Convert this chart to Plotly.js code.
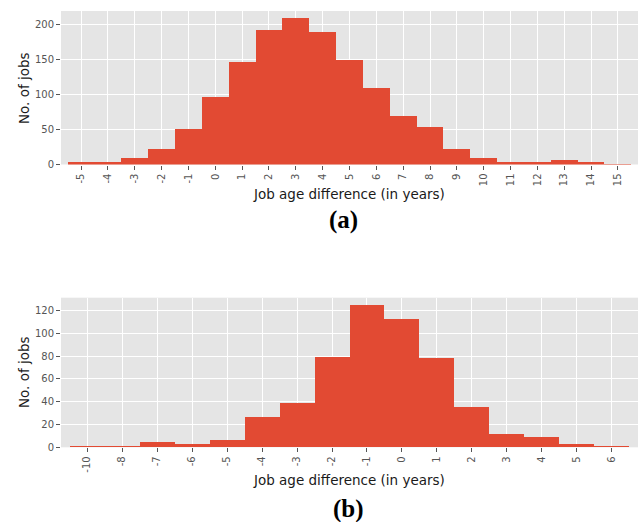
<!DOCTYPE html>
<html>
<head>
<meta charset="utf-8">
<script src="https://cdn.plot.ly/plotly-3.0.1.min.js"></script>
<style>
  html, body { margin: 0; padding: 0; background: #ffffff; }
  #chart { width: 643px; height: 522px; }
</style>
</head>
<body>
<div id="chart"></div>
<script>
// (a) job age difference histogram, one bar per year
const catsA = ["-5","-4","-3","-2","-1","0","1","2","3","4","5","6","7","8","9","10","11","12","13","14","15"];
const countsA = [3, 3, 10, 22, 51, 96, 146, 192, 209, 189, 149, 110, 69, 53, 22, 10, 3, 3, 6, 3, 1];

// (b) job age difference histogram
const catsB = ["-10","-8","-7","-6","-5","-4","-3","-2","-1","0","1","2","3","4","5","6"];
const countsB = [1, 1, 5, 3, 6, 27, 39, 79, 125, 113, 78, 35, 12, 9, 3, 1];

const yTicksA = [0, 50, 100, 150, 200];
const yTicksB = [0, 20, 40, 60, 80, 100, 120];

const barColor = "#E24A33";
const panelBg = "#E5E5E5";
const tickColor = "#555555";
const fontFamily = "DejaVu Sans, sans-serif";

const W = 643, H = 522;
const px = v => v / W;           // horizontal pixel -> paper
const py = v => 1 - v / H;       // vertical pixel -> paper

const traces = [
  { type: "bar", x: catsA, y: countsA, xaxis: "x", yaxis: "y",
    marker: { color: barColor, line: { width: 0 } }, hoverinfo: "x+y" },
  { type: "bar", x: catsB, y: countsB, xaxis: "x2", yaxis: "y2",
    marker: { color: barColor, line: { width: 0 } }, hoverinfo: "x+y" }
];

function xAxis(cats, anchor) {
  return {
    type: "category", anchor: anchor,
    domain: [px(61), px(638)],
    range: [-0.75, cats.length - 0.25],
    showgrid: true, gridcolor: "#ffffff", gridwidth: 1,
    zeroline: false, showline: false,
    ticks: "outside", ticklen: 4, tickwidth: 1, tickcolor: tickColor,
    tickangle: -90,
    tickfont: { family: fontFamily, size: 10, color: tickColor },
    fixedrange: true
  };
}

function yAxis(maxVal, ticks, top, bottom, anchor) {
  return {
    anchor: anchor,
    domain: [py(bottom), py(top)],
    range: [0, maxVal * 1.05],
    tickvals: ticks,
    showgrid: true, gridcolor: "#ffffff", gridwidth: 1,
    zeroline: false, showline: false,
    ticks: "outside", ticklen: 4, tickwidth: 1, tickcolor: tickColor,
    tickfont: { family: fontFamily, size: 10, color: tickColor },
    fixedrange: true
  };
}

const titleFont = { family: fontFamily, size: 13.5, color: "#1a1a1a" };
const panelFont = { family: "Liberation Serif, Times New Roman, serif", size: 25, color: "#000000" };

const layout = {
  width: W, height: H,
  margin: { l: 0, r: 0, t: 0, b: 0 },
  paper_bgcolor: "#ffffff",
  plot_bgcolor: panelBg,
  showlegend: false,
  bargap: 0,
  xaxis: xAxis(catsA, "y"),
  yaxis: yAxis(Math.max(...countsA), yTicksA, 11, 164.5, "x"),
  xaxis2: xAxis(catsB, "y2"),
  yaxis2: yAxis(Math.max(...countsB), yTicksB, 297.7, 447.3, "x2"),
  annotations: [
    { text: "Job age difference (in years)", xref: "paper", yref: "paper",
      x: px(349), y: py(194), xanchor: "center", yanchor: "middle",
      showarrow: false, font: titleFont },
    { text: "No. of jobs", xref: "paper", yref: "paper",
      x: px(24), y: py(88), xanchor: "center", yanchor: "middle",
      textangle: -90, showarrow: false, font: titleFont },
    { text: "<b>(a)</b>", xref: "paper", yref: "paper",
      x: px(343), y: py(220), xanchor: "center", yanchor: "middle",
      showarrow: false, font: panelFont },
    { text: "Job age difference (in years)", xref: "paper", yref: "paper",
      x: px(349), y: py(480), xanchor: "center", yanchor: "middle",
      showarrow: false, font: titleFont },
    { text: "No. of jobs", xref: "paper", yref: "paper",
      x: px(24), y: py(372), xanchor: "center", yanchor: "middle",
      textangle: -90, showarrow: false, font: titleFont },
    { text: "<b>(b)</b>", xref: "paper", yref: "paper",
      x: px(348), y: py(509), xanchor: "center", yanchor: "middle",
      showarrow: false, font: panelFont }
  ]
};

Plotly.newPlot("chart", traces, layout, { displayModeBar: false, staticPlot: true });
</script>
</body>
</html>
